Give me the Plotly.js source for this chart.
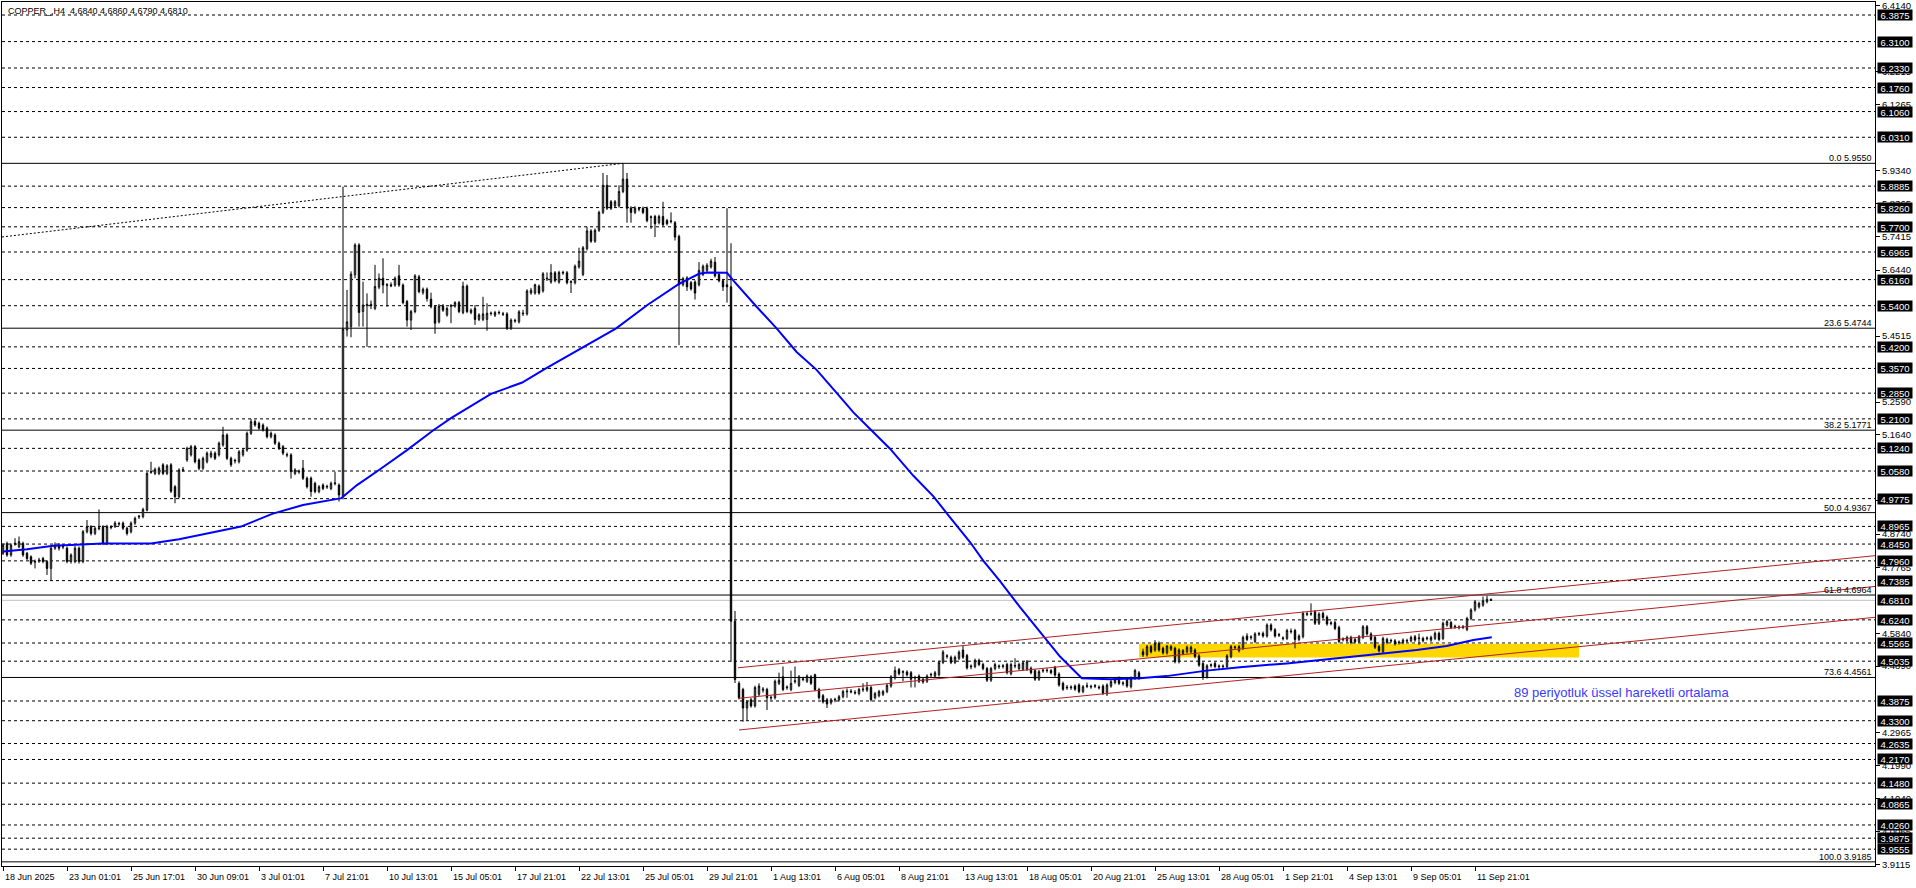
<!DOCTYPE html>
<html><head><meta charset="utf-8">
<script src="https://cdn.plot.ly/plotly-3.0.1.min.js"></script>
<style>html,body{margin:0;padding:0;background:#fff;overflow:hidden}#chart{width:1916px;height:888px}</style>
</head><body><div id="chart"></div>
<script>
// ---- OHLC data (H4 bars, bar index = position) ----
const opens = [
4.818,4.847,4.813,4.845,4.837,4.847,4.818,4.808,4.792,4.796,
4.803,4.794,4.774,4.833,4.842,4.836,4.833,4.794,4.794,4.833,
4.794,4.881,4.896,4.876,4.890,4.896,4.847,4.893,4.896,4.903,
4.906,4.891,4.881,4.906,4.924,4.925,4.944,5.054,5.051,5.051,
5.076,5.051,5.076,5.012,4.983,5.060,5.090,5.105,5.129,5.090,
5.066,5.085,5.100,5.110,5.105,5.134,5.163,5.095,5.087,5.085,
5.105,5.119,5.168,5.202,5.197,5.192,5.183,5.158,5.163,5.139,
5.129,5.104,5.105,5.051,5.055,5.066,5.037,5.037,5.022,4.998,
5.017,5.011,5.007,5.021,5.017,4.985,5.469,5.479,5.630,5.717,
5.523,5.540,5.544,5.532,5.594,5.620,5.599,5.601,5.600,5.627,
5.600,5.552,5.498,5.523,5.624,5.578,5.588,5.559,5.537,5.493,
5.539,5.513,5.538,5.539,5.549,5.520,5.597,5.520,5.532,5.500,
5.500,5.500,5.517,5.512,5.519,5.515,5.516,5.474,5.495,5.493,
5.516,5.516,5.577,5.577,5.597,5.583,5.618,5.609,5.636,5.609,
5.635,5.636,5.608,5.607,5.653,5.631,5.706,5.758,5.728,5.760,
5.812,5.891,5.843,5.831,5.831,5.873,5.909,5.825,5.812,5.821,
5.824,5.824,5.797,5.800,5.782,5.800,5.788,5.785,5.782,5.742,
5.601,5.621,5.607,5.609,5.601,5.631,5.643,5.653,5.667,5.631,
5.613,5.601,5.595,4.620,4.439,4.421,4.367,4.391,4.373,4.407,
4.419,4.421,4.396,4.397,4.439,4.458,4.426,4.421,4.444,4.433,
4.450,4.445,4.458,4.464,4.421,4.403,4.391,4.382,4.390,4.391,
4.400,4.414,4.416,4.413,4.409,4.420,4.419,4.427,4.397,4.403,
4.407,4.415,4.431,4.455,4.479,4.471,4.472,4.470,4.454,4.460,
4.451,4.445,4.463,4.460,4.464,4.500,4.517,4.515,4.500,4.512,
4.536,4.520,4.487,4.488,4.506,4.494,4.482,4.448,4.482,4.487,
4.488,4.494,4.467,4.489,4.482,4.480,4.480,4.483,4.476,4.451,
4.475,4.476,4.476,4.486,4.466,4.439,4.428,4.426,4.431,4.434,
4.415,4.430,4.428,4.430,4.428,4.431,4.408,4.431,4.441,4.454,
4.438,4.451,4.429,4.454,4.470,4.531,4.522,4.546,4.536,4.556,
4.541,4.528,4.538,4.541,4.502,4.526,4.531,4.531,4.536,4.519,
4.497,4.458,4.491,4.497,4.487,4.488,4.488,4.517,4.543,4.534,
4.541,4.577,4.572,4.561,4.582,4.585,4.577,4.609,4.595,4.579,
4.569,4.570,4.589,4.593,4.567,4.575,4.640,4.641,4.648,4.614,
4.643,4.632,4.613,4.616,4.602,4.566,4.563,4.573,4.567,4.561,
4.573,4.604,4.583,4.573,4.546,4.531,4.567,4.562,4.563,4.557,
4.558,4.562,4.563,4.575,4.569,4.570,4.569,4.565,4.570,4.585,
4.570,4.609,4.616,4.603,4.601,4.602,4.596,4.628,4.653,4.662,
4.667,4.677,4.684];
const highs = [
4.847,4.852,4.847,4.862,4.867,4.852,4.822,4.812,4.800,4.805,
4.808,4.798,4.838,4.850,4.848,4.845,4.838,4.818,4.840,4.838,
4.886,4.915,4.900,4.896,4.946,4.900,4.901,4.900,4.912,4.910,
4.911,4.896,4.911,4.925,4.930,4.951,5.056,5.085,5.068,5.071,
5.081,5.078,5.081,5.017,5.066,5.070,5.129,5.134,5.134,5.095,
5.100,5.115,5.117,5.115,5.144,5.187,5.168,5.100,5.094,5.119,
5.124,5.173,5.210,5.207,5.202,5.197,5.188,5.173,5.168,5.144,
5.134,5.112,5.110,5.066,5.062,5.090,5.042,5.042,5.027,5.017,
5.022,5.018,5.027,5.056,5.022,5.887,5.586,5.640,5.722,5.722,
5.610,5.576,5.555,5.659,5.634,5.678,5.606,5.608,5.625,5.659,
5.605,5.557,5.528,5.632,5.630,5.593,5.593,5.578,5.542,5.545,
5.545,5.537,5.545,5.553,5.554,5.610,5.602,5.532,5.542,5.518,
5.566,5.547,5.523,5.525,5.526,5.522,5.521,5.503,5.502,5.527,
5.528,5.588,5.592,5.604,5.602,5.638,5.637,5.661,5.641,5.642,
5.642,5.641,5.614,5.660,5.709,5.714,5.770,5.763,5.765,5.817,
5.927,5.921,5.848,5.848,5.891,5.955,5.927,5.830,5.830,5.828,
5.829,5.829,5.803,5.805,5.805,5.843,5.793,5.812,5.787,5.747,
5.624,5.626,5.612,5.614,5.667,5.660,5.664,5.677,5.682,5.636,
5.618,5.824,5.722,4.650,4.445,4.426,4.390,4.396,4.432,4.439,
4.428,4.426,4.404,4.450,4.470,4.488,4.433,4.476,4.488,4.463,
4.458,4.465,4.463,4.467,4.426,4.408,4.396,4.396,4.397,4.405,
4.420,4.424,4.422,4.419,4.426,4.439,4.443,4.432,4.414,4.420,
4.420,4.438,4.463,4.488,4.484,4.477,4.477,4.475,4.461,4.465,
4.456,4.465,4.470,4.475,4.505,4.536,4.524,4.520,4.520,4.535,
4.548,4.525,4.494,4.511,4.511,4.499,4.487,4.487,4.499,4.494,
4.495,4.499,4.499,4.512,4.499,4.504,4.507,4.488,4.481,4.478,
4.481,4.483,4.481,4.490,4.471,4.444,4.434,4.433,4.436,4.439,
4.434,4.441,4.435,4.437,4.433,4.436,4.439,4.449,4.454,4.459,
4.445,4.456,4.459,4.481,4.475,4.540,4.551,4.551,4.565,4.561,
4.546,4.550,4.551,4.546,4.541,4.539,4.549,4.549,4.541,4.524,
4.502,4.495,4.497,4.502,4.494,4.494,4.524,4.551,4.549,4.551,
4.578,4.585,4.579,4.588,4.589,4.590,4.614,4.614,4.600,4.586,
4.576,4.598,4.599,4.598,4.582,4.648,4.647,4.672,4.653,4.646,
4.648,4.637,4.620,4.621,4.607,4.573,4.578,4.578,4.572,4.580,
4.609,4.609,4.588,4.578,4.551,4.575,4.572,4.569,4.568,4.564,
4.570,4.569,4.578,4.580,4.584,4.575,4.576,4.578,4.590,4.590,
4.619,4.624,4.621,4.610,4.608,4.609,4.633,4.658,4.682,4.677,
4.692,4.694,4.686];
const lows = [
4.813,4.808,4.808,4.840,4.833,4.808,4.798,4.784,4.774,4.790,
4.789,4.755,4.740,4.828,4.826,4.830,4.789,4.788,4.789,4.788,
4.789,4.876,4.870,4.871,4.885,4.842,4.842,4.888,4.892,4.898,
4.886,4.870,4.876,4.901,4.918,4.920,4.940,5.050,5.046,5.046,
5.046,5.046,4.994,4.964,4.978,5.055,5.085,5.100,5.080,5.060,
5.061,5.080,5.095,5.090,5.100,5.129,5.090,5.070,5.080,5.080,
5.100,5.114,5.163,5.187,5.178,5.173,5.153,5.153,5.134,5.119,
5.104,5.098,5.036,5.046,5.050,5.032,5.007,4.983,4.993,4.993,
5.002,5.006,5.002,5.016,4.969,4.975,5.450,5.448,5.620,5.479,
5.479,5.420,5.530,5.527,5.588,5.576,5.537,5.594,5.595,5.595,
5.544,5.479,5.469,5.518,5.576,5.572,5.552,5.532,5.458,5.488,
5.522,5.508,5.489,5.534,5.518,5.515,5.518,5.515,5.484,5.495,
5.495,5.467,5.511,5.507,5.514,5.510,5.469,5.469,5.490,5.488,
5.510,5.511,5.572,5.572,5.572,5.578,5.612,5.604,5.608,5.604,
5.630,5.602,5.577,5.602,5.648,5.626,5.701,5.723,5.723,5.755,
5.807,5.819,5.819,5.826,5.826,5.868,5.782,5.782,5.807,5.815,
5.807,5.783,5.764,5.740,5.777,5.771,5.774,5.780,5.730,5.425,
5.596,5.583,5.584,5.558,5.596,5.626,5.638,5.648,5.622,5.608,
5.583,5.549,4.502,4.440,4.392,4.327,4.331,4.368,4.368,4.402,
4.412,4.361,4.390,4.392,4.434,4.416,4.420,4.416,4.438,4.428,
4.445,4.440,4.434,4.416,4.392,4.380,4.367,4.377,4.384,4.386,
4.395,4.397,4.410,4.406,4.404,4.414,4.414,4.386,4.392,4.398,
4.402,4.410,4.426,4.450,4.462,4.445,4.459,4.427,4.427,4.440,
4.438,4.440,4.457,4.455,4.459,4.495,4.511,4.495,4.495,4.507,
4.510,4.479,4.480,4.483,4.489,4.477,4.443,4.443,4.477,4.481,
4.482,4.465,4.462,4.483,4.477,4.475,4.475,4.465,4.446,4.446,
4.470,4.470,4.465,4.458,4.429,4.417,4.420,4.420,4.417,4.410,
4.410,4.425,4.423,4.425,4.421,4.405,4.402,4.426,4.436,4.434,
4.432,4.426,4.424,4.449,4.449,4.516,4.517,4.526,4.531,4.531,
4.523,4.523,4.533,4.497,4.497,4.521,4.526,4.526,4.512,4.487,
4.449,4.453,4.485,4.483,4.481,4.482,4.483,4.512,4.538,4.529,
4.536,4.562,4.566,4.556,4.577,4.572,4.572,4.590,4.572,4.574,
4.564,4.565,4.584,4.541,4.562,4.570,4.635,4.636,4.609,4.609,
4.626,4.607,4.608,4.594,4.556,4.561,4.558,4.553,4.555,4.556,
4.568,4.578,4.562,4.539,4.529,4.526,4.553,4.557,4.549,4.552,
4.553,4.557,4.558,4.560,4.551,4.558,4.564,4.560,4.565,4.562,
4.565,4.604,4.597,4.598,4.596,4.597,4.591,4.623,4.648,4.657,
4.662,4.672,4.679];
const closes = [
4.842,4.813,4.842,4.847,4.852,4.813,4.803,4.789,4.794,4.798,
4.794,4.774,4.833,4.842,4.833,4.838,4.794,4.813,4.833,4.794,
4.881,4.896,4.876,4.891,4.892,4.847,4.896,4.895,4.906,4.905,
4.891,4.876,4.906,4.920,4.926,4.946,5.051,5.056,5.063,5.066,
5.051,5.073,4.999,4.983,5.061,5.062,5.124,5.129,5.085,5.066,
5.095,5.110,5.110,5.095,5.139,5.163,5.095,5.076,5.089,5.114,
5.119,5.168,5.202,5.192,5.183,5.178,5.158,5.168,5.139,5.124,
5.110,5.106,5.056,5.061,5.057,5.037,5.012,4.998,4.998,5.012,
5.007,5.013,5.022,5.023,4.988,5.472,5.493,5.632,5.717,5.520,
5.542,5.544,5.540,5.596,5.620,5.600,5.601,5.598,5.620,5.600,
5.549,5.498,5.523,5.627,5.581,5.588,5.561,5.537,5.489,5.539,
5.527,5.532,5.540,5.549,5.523,5.597,5.523,5.527,5.500,5.513,
5.516,5.518,5.518,5.520,5.520,5.516,5.474,5.498,5.497,5.522,
5.518,5.583,5.585,5.601,5.577,5.633,5.620,5.636,5.613,5.637,
5.637,5.607,5.610,5.655,5.670,5.709,5.758,5.728,5.760,5.812,
5.891,5.824,5.824,5.843,5.873,5.909,5.824,5.812,5.824,5.823,
5.812,5.788,5.799,5.779,5.800,5.776,5.779,5.787,5.740,5.601,
5.619,5.595,5.589,5.577,5.643,5.655,5.658,5.670,5.627,5.613,
5.595,5.595,4.620,4.450,4.397,4.367,4.385,4.373,4.427,4.431,
4.422,4.397,4.398,4.445,4.448,4.421,4.428,4.439,4.446,4.458,
4.452,4.460,4.439,4.421,4.397,4.385,4.379,4.391,4.392,4.400,
4.415,4.416,4.414,4.411,4.421,4.422,4.427,4.391,4.409,4.415,
4.415,4.433,4.458,4.476,4.467,4.473,4.464,4.451,4.456,4.445,
4.443,4.460,4.465,4.470,4.500,4.530,4.519,4.500,4.515,4.530,
4.515,4.484,4.489,4.506,4.494,4.482,4.448,4.482,4.494,4.489,
4.490,4.470,4.494,4.491,4.494,4.499,4.502,4.470,4.451,4.473,
4.477,4.477,4.470,4.463,4.434,4.422,4.426,4.428,4.422,4.415,
4.429,4.432,4.430,4.432,4.426,4.410,4.434,4.444,4.449,4.439,
4.440,4.431,4.454,4.476,4.454,4.522,4.546,4.531,4.556,4.536,
4.528,4.548,4.546,4.502,4.536,4.534,4.544,4.544,4.517,4.492,
4.458,4.490,4.493,4.488,4.489,4.489,4.519,4.546,4.545,4.546,
4.573,4.567,4.574,4.583,4.584,4.577,4.609,4.595,4.577,4.581,
4.571,4.593,4.591,4.567,4.577,4.643,4.642,4.642,4.614,4.641,
4.631,4.612,4.615,4.599,4.561,4.568,4.573,4.558,4.560,4.575,
4.604,4.583,4.567,4.544,4.534,4.570,4.558,4.564,4.554,4.559,
4.565,4.564,4.573,4.565,4.571,4.563,4.571,4.573,4.585,4.567,
4.614,4.619,4.602,4.605,4.603,4.603,4.628,4.653,4.677,4.672,
4.680,4.684,4.681];

// ---- 89-period moving average (bar, price) ----
const maBars = [0,6,12.6,19.3,25,37,44,49.5,59.5,67.3,75,84.6,88.5,94,101,107.5,112,122,129.8,135.4,144.3,153.3,161.1,168.9,174,176,181,182.6,188.4,193.4,198.4,203.4,208.4,212.6,217.6,221.75,227.6,232.6,236.75,241.75,245.1,249.25,254.25,259.25,264.25,269.7,276.75,284.25,290.9,300.9,309.25,320.9,329.25,339.25,345.1,353.4,360.9,367.6,372.2];
const maValues = [4.823,4.830,4.840,4.843,4.847,4.847,4.859,4.872,4.896,4.933,4.959,4.979,5.017,5.061,5.119,5.176,5.212,5.283,5.316,5.355,5.413,5.474,5.542,5.603,5.633,5.637,5.636,5.613,5.537,5.474,5.405,5.353,5.286,5.229,5.171,5.123,5.044,4.984,4.923,4.851,4.796,4.737,4.661,4.590,4.517,4.454,4.451,4.454,4.460,4.476,4.486,4.497,4.507,4.519,4.524,4.536,4.548,4.565,4.573];

// ---- horizontal levels ----
const dashedLevels = [6.3875,6.3100,6.2330,6.1760,6.1060,6.0310,5.8885,5.8260,5.7700,5.6965,5.6160,5.5400,5.4200,5.3570,5.2850,5.2100,5.1240,5.0580,4.9775,4.8965,4.8450,4.7960,4.7385,4.6240,4.5565,4.5035,4.3875,4.3300,4.2635,4.2170,4.1480,4.0865,4.0260,3.9875,3.9555];
const bidPrice = 4.6810;
const fibRatios = ["0.0","23.6","38.2","50.0","61.8","73.6","100.0"];
const fibLevels = [5.9550,5.4744,5.1771,4.9367,4.6964,4.4561,3.9185];
const priceTicks = [6.4140,6.2215,6.1265,5.9340,5.8365,5.7415,5.6440,5.4515,5.2590,5.1640,4.9715,4.8740,4.7765,4.5840,4.4890,4.2965,4.1990,4.1040,4.0065,3.9115];

// ---- time axis labels ----
const timeLabelBars = [0,16,32,48,64,80,96,112,128,144,160,176,192,208,224,240,256,272,288,304,320,336,352,368];
const timeLabels = ["18 Jun 2025","23 Jun 01:01","25 Jun 17:01","30 Jun 09:01","3 Jul 01:01","7 Jul 21:01","10 Jul 13:01","15 Jul 05:01","17 Jul 21:01","22 Jul 13:01","25 Jul 05:01","29 Jul 21:01","1 Aug 13:01","6 Aug 05:01","8 Aug 21:01","13 Aug 13:01","18 Aug 05:01","20 Aug 21:01","25 Aug 13:01","28 Aug 05:01","1 Sep 21:01","4 Sep 13:01","9 Sep 05:01","11 Sep 21:01"];

// ---- drawn objects (bar, price) ----
const channelStartBars = [183.75,183.75,184];
const channelStartPrices = [4.4843,4.3951,4.3030];
const channelEndBars = [468,468,468];
const channelEndPrices = [4.8111,4.7214,4.6315];
const dottedBars = [-0.25,155];
const dottedPrices = [5.7403,5.9550];
const zoneBars = [284,394];
const zonePrices = [4.5143,4.5542];
const headerText = "COPPER_,H4\u00a0\u00a04.6840 4.6860 4.6790 4.6810";
const noteText = "89 periyotluk üssel hareketli ortalama";
const noteBar = 377.2, notePrice = 4.4125;

const FONT = "Liberation Sans, Arial, sans-serif";
const barIdx = closes.map((_, i) => i);

const traces = [
  {
    type: "candlestick", x: barIdx, open: opens, high: highs, low: lows, close: closes,
    increasing: {line: {color: "#000", width: 1}, fillcolor: "#fff"},
    decreasing: {line: {color: "#000", width: 1}, fillcolor: "#000"},
    whiskerwidth: 0, hoverinfo: "skip", showlegend: false
  },
  {
    type: "scatter", mode: "lines", x: maBars, y: maValues,
    line: {color: "#0000FF", width: 2}, hoverinfo: "skip", showlegend: false
  }
];

const shapes = [];
shapes.push({type: "rect", xref: "x", yref: "y", x0: zoneBars[0], x1: zoneBars[1], y0: zonePrices[0], y1: zonePrices[1],
  fillcolor: "#FFD700", line: {width: 0}, layer: "below"});
dashedLevels.forEach(p => shapes.push({type: "line", xref: "paper", x0: 0, x1: 1, yref: "y", y0: p, y1: p,
  line: {color: "#000", width: 1, dash: "3px,3px"}, layer: "below"}));
shapes.push({type: "line", xref: "paper", x0: 0, x1: 1, yref: "y", y0: bidPrice, y1: bidPrice,
  line: {color: "#C0C0C0", width: 1}, layer: "below"});
fibLevels.forEach(p => shapes.push({type: "line", xref: "paper", x0: 0, x1: 1, yref: "y", y0: p, y1: p,
  line: {color: "#000", width: 1}, layer: "below"}));
shapes.push({type: "line", xref: "x", yref: "y", x0: dottedBars[0], x1: dottedBars[1],
  y0: dottedPrices[0], y1: dottedPrices[1], line: {color: "#000", width: 1, dash: "2px,2px"}, layer: "below"});
for (let k = 0; k < channelStartBars.length; k++) {
  shapes.push({type: "line", xref: "x", yref: "y", x0: channelStartBars[k], x1: channelEndBars[k],
    y0: channelStartPrices[k], y1: channelEndPrices[k], line: {color: "#B22222", width: 1}, layer: "above"});
}

const annotations = [];
annotations.push({xref: "paper", yref: "paper", x: 0, y: 1, xanchor: "left", yanchor: "top", xshift: 4, yshift: -2,
  text: headerText, showarrow: false, font: {family: FONT, size: 9, color: "#000"}});
dashedLevels.concat([bidPrice]).forEach(p => annotations.push({
  xref: "paper", yref: "y", x: 1, y: p, xanchor: "left", yanchor: "middle", xshift: 2,
  text: p.toFixed(4), showarrow: false, bgcolor: "#000", width: 34, height: 10, borderpad: 0,
  font: {family: FONT, size: 9.5, color: "#fff"}}));
fibLevels.forEach((p, i) => annotations.push({
  xref: "paper", yref: "y", x: 1, y: p, xanchor: "right", yanchor: "bottom", xshift: -1, yshift: -2,
  text: fibRatios[i] + " " + p.toFixed(4), showarrow: false, font: {family: FONT, size: 9, color: "#000"}}));
timeLabelBars.forEach((b, i) => annotations.push({
  xref: "x", yref: "paper", x: b, y: 0, xanchor: "left", yanchor: "top", xshift: 0, yshift: -4,
  text: timeLabels[i], showarrow: false, font: {family: FONT, size: 9, color: "#000"}}));
annotations.push({xref: "x", yref: "y", x: noteBar, y: notePrice, xanchor: "left", yanchor: "middle",
  text: noteText, showarrow: false, font: {family: FONT, size: 13, color: "#3A3AFF"}});

const layout = {
  width: 1916, height: 888,
  margin: {l: 2, r: 41, t: 2, b: 22, pad: 0},
  paper_bgcolor: "#fff", plot_bgcolor: "#fff",
  showlegend: false, hovermode: false, boxgap: 0.5,
  xaxis: {
    range: [-0.25, 468], showgrid: false, zeroline: false, showline: true, mirror: true,
    linecolor: "#000", linewidth: 1, ticks: "outside", ticklen: 4, tickcolor: "#000",
    tickvals: timeLabelBars, showticklabels: false, rangeslider: {visible: false}, fixedrange: true
  },
  yaxis: {
    range: [3.9064, 6.4254], side: "right", showgrid: false, zeroline: false, showline: true, mirror: true,
    linecolor: "#000", linewidth: 1, ticks: "outside", ticklen: 4, tickcolor: "#000",
    tickvals: priceTicks, ticktext: priceTicks.map(v => v.toFixed(4)),
    tickfont: {family: FONT, size: 9.5, color: "#000"}, fixedrange: true
  },
  shapes: shapes, annotations: annotations
};

Plotly.newPlot("chart", traces, layout, {displayModeBar: false, staticPlot: true});
</script></body></html>
